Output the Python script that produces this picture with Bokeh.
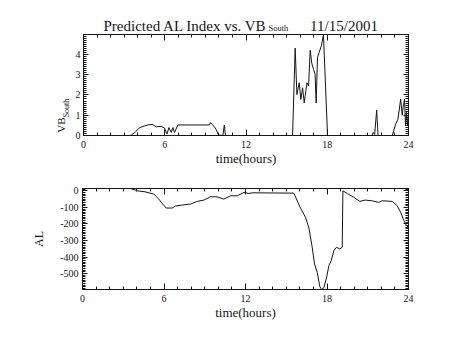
import numpy as np
from bokeh.plotting import figure
from bokeh.models import Range1d, FixedTicker, LinearAxis, Label, CustomJSTickFormatter
from bokeh.layouts import column, row
from bokeh.embed import file_html
from bokeh.resources import INLINE

# ---------------- data ----------------
title_main = "Predicted AL Index vs. VB"
title_sub = "South"
title_date = "11/15/2001"
x_label = "time(hours)"
vb_label = "VB"
vb_label_sub = "South"
al_label = "AL"

x_ticks = [0, 6, 12, 18, 24]
x_minor = list(range(0, 25))
vb_ticks = [0, 1, 2, 3, 4]
al_ticks = [0, -100, -200, -300, -400, -500]
al_tick_labels = ["0", "-100", "-200", "-300", "-400", "-500"]

vb_time = [0.0, 3.45, 3.53, 3.78, 4.15, 4.51, 4.75, 5.08, 5.37, 5.74, 5.99, 6.16,
           6.31, 6.48, 6.6, 6.72, 6.97, 9.3, 9.37, 9.55, 9.79, 9.96, 10.29, 10.4,
           10.48, 15.44, 15.63, 15.76, 15.93, 16.05, 16.18, 16.3, 16.5, 16.62,
           16.74, 16.86, 16.99, 17.1, 17.18, 17.28, 17.4, 17.57, 17.72, 18.02,
           21.3, 21.4, 21.5, 21.65, 21.75, 22.8, 23.05, 23.22, 23.42, 23.54, 23.6,
           23.71, 23.78, 23.86, 23.93, 24.0]
vb_vals = [0.0, 0.0, 0.03, 0.14, 0.39, 0.47, 0.52, 0.55, 0.43, 0.45, 0.36, 0.07,
           0.39, 0.15, 0.39, 0.15, 0.52, 0.52, 0.64, 0.52, 0.31, 0.03, 0.0, 0.52,
           0.0, 0.0, 4.31, 2.02, 2.6, 1.78, 2.35, 1.61, 2.6, 2.44,
           4.2, 3.55, 3.26, 3.03, 1.6, 3.85, 4.1, 4.43, 4.98, 0.0,
           0.0, 0.15, 0.05, 1.25, 0.0, 0.0, 0.56, 0.8, 1.79, 1.0, 1.4,
           1.79, 0.48, 1.14, 0.5, 1.0]

al_time = [3.53, 4.03, 4.6, 5.25, 5.62, 5.9, 6.16, 6.6, 6.85, 7.34, 7.95, 8.44,
           8.94, 9.42, 9.9, 10.4, 10.9, 11.4, 11.88, 12.25, 12.5, 15.56, 16.05,
           16.42, 16.67, 16.91, 17.08, 17.28, 17.47, 17.6, 17.77, 17.97, 18.14,
           18.31, 18.51, 18.7, 18.95, 19.12, 19.17, 19.49, 19.98, 20.42, 20.8,
           21.3, 21.82, 22.06, 22.8, 23.17, 23.42, 23.66, 23.86, 24.0]
al_vals = [14, 0, -6, -20, -50, -80, -104, -104, -92, -86, -80, -64,
           -56, -36, -36, -50, -30, -30, -10, -16, -12, -14, -105,
           -160, -225, -341, -441, -492, -578, -596, -586, -522, -452,
           -422, -361, -341, -351, -341, 0, -16, -40, -64, -56,
           -60, -70, -60, -64, -90, -130, -180, -211, -222]

# ---------------- style ----------------
FONT = "Liberation Serif"
INK = "#151515"
W = 450
STRIP = 72
HEAD_H = 33
P1_H = 135
P2_H = 170


def blank():
    return CustomJSTickFormatter(code="return ''")


def text_panel(width, height):
    f = figure(width=width, height=height, x_range=Range1d(0, width), y_range=Range1d(0, height),
               output_backend="svg", toolbar_location=None, x_axis_type=None, y_axis_type=None,
               min_border=0, frame_align=False)
    f.outline_line_color = None
    f.grid.visible = False
    f.background_fill_color = "white"
    f.border_fill_color = "white"
    return f


def style_axes(p, yticker, ylabel_overrides=None):
    xticker = FixedTicker(ticks=x_ticks, minor_ticks=x_minor)
    p.grid.visible = False
    p.outline_line_color = INK
    p.background_fill_color = "white"
    p.border_fill_color = "white"

    xa = p.xaxis[0]
    xa.ticker = xticker
    xa.axis_label = x_label
    xa.axis_label_text_font = FONT
    xa.axis_label_text_font_size = "13px"
    xa.axis_label_text_font_style = "normal"
    xa.axis_label_standoff = 0
    xa.major_label_text_font = FONT
    xa.major_label_text_font_size = "10px"
    xa.major_label_standoff = 5
    ya = p.yaxis[0]
    ya.ticker = yticker
    ya.major_label_text_font = FONT
    ya.major_label_text_font_size = "10px"
    ya.major_label_standoff = 3
    if ylabel_overrides:
        ya.major_label_overrides = ylabel_overrides

    for ax in (xa, ya):
        ax.axis_line_color = INK
        ax.major_tick_line_color = INK
        ax.minor_tick_line_color = INK
        ax.major_label_text_color = INK
        ax.axis_label_text_color = INK
        ax.major_tick_out = 0
        ax.minor_tick_out = 0
    xa.major_tick_in = 6
    xa.minor_tick_in = 3
    ya.major_tick_in = 5
    ya.minor_tick_in = 3

    common = dict(formatter=blank(), major_tick_out=0, minor_tick_out=0, major_label_standoff=0,
                  axis_line_color=INK, major_tick_line_color=INK, minor_tick_line_color=INK,
                  major_label_text_font_size="1px")
    top = LinearAxis(ticker=xticker, major_tick_in=6, minor_tick_in=3, **common)
    right = LinearAxis(ticker=yticker, major_tick_in=5, minor_tick_in=3, **common)
    p.add_layout(top, "above")
    p.add_layout(right, "right")


# ---------------- header (title) ----------------
head = text_panel(W, HEAD_H)
head.add_layout(Label(x=103, y=HEAD_H - 25.3, text=title_main, text_align="left",
                      text_baseline="middle", text_font=FONT, text_font_size="15px",
                      text_color=INK))
head.add_layout(Label(x=268, y=HEAD_H - 27.8, text=title_sub, text_align="left",
                      text_baseline="middle", text_font=FONT, text_font_size="8.5px",
                      text_color=INK))
head.add_layout(Label(x=343.5, y=HEAD_H - 25.3, text=title_date, text_align="center",
                      text_baseline="middle", text_font=FONT, text_font_size="15px",
                      text_color=INK))

# ---------------- top panel: VB_South ----------------
vb_max = max(vb_vals)
p1 = figure(width=W - STRIP, height=P1_H, x_range=Range1d(0, 24), y_range=Range1d(0, vb_max),
            output_backend="svg", toolbar_location=None,
            min_border_left=82 - STRIP, min_border_right=W - 408,
            min_border_top=1, min_border_bottom=32)
style_axes(p1, FixedTicker(ticks=vb_ticks, minor_ticks=list(np.round(np.arange(0, 5.01, 0.1), 2))))
p1.line(vb_time, vb_vals, line_color=INK, line_width=1)

strip = text_panel(STRIP, P1_H)
bottom_ref = HEAD_H + P1_H  # reference y of strip bottom
strip.add_layout(Label(x=60, y=bottom_ref - 124.5, text=vb_label, angle=90, angle_units="deg",
                       text_align="center", text_baseline="middle", text_font=FONT,
                       text_font_size="11px", text_color=INK))
strip.add_layout(Label(x=66, y=bottom_ref - 107.5, text=vb_label_sub, angle=90, angle_units="deg",
                       text_align="center", text_baseline="middle", text_font=FONT,
                       text_font_size="8px", text_color=INK))

# ---------------- bottom panel: AL ----------------
al_top, al_bot = max(al_vals), min(al_vals)
p2 = figure(width=W, height=P2_H, x_range=Range1d(0, 24), y_range=Range1d(al_bot, al_top),
            output_backend="svg", toolbar_location=None,
            min_border_left=82, min_border_right=W - 408,
            min_border_top=20, min_border_bottom=P2_H - 20 - 101)
style_axes(p2, FixedTicker(ticks=al_ticks, minor_ticks=list(range(-590, 11, 10))),
           ylabel_overrides={t: s for t, s in zip(al_ticks, al_tick_labels)})
ya2 = p2.yaxis[0]
ya2.major_label_standoff = 4
ya2.axis_label = al_label
ya2.axis_label_text_font = FONT
ya2.axis_label_text_font_size = "12px"
ya2.axis_label_text_font_style = "normal"
ya2.axis_label_standoff = 11
p2.line(al_time, al_vals, line_color=INK, line_width=1)

layout = column(head, row(strip, p1, spacing=0), p2, spacing=0)
open("out.html", "w").write(file_html(layout, INLINE))
